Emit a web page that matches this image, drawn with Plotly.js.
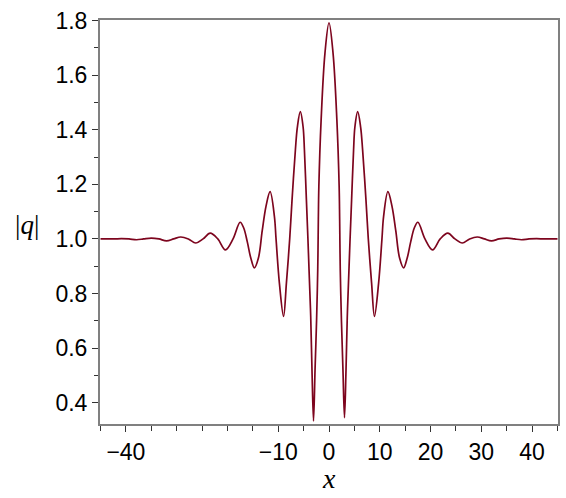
<!DOCTYPE html>
<html>
<head>
<meta charset="utf-8">
<script src="https://cdn.plot.ly/plotly-3.0.1.min.js"></script>
<style>
  html, body { margin: 0; padding: 0; background: #fff; }
  #plot { width: 566px; height: 498px; }
</style>
</head>
<body>
<div id="plot"></div>
<script>
// values: extrema of |q| and points on their flanks
var xVals = [-45, -42.4, -40.9, -39.4, -37.9, -36.5, -35.0, -33.5, -32.0, -30.6,
  -29.2, -27.7, -26.25, -24.8, -23.4, -21.9, -20.4, -18.9, -17.5, -16.8,
  -16.1, -15.4, -14.7, -13.9, -13.15, -12.4, -11.6, -10.75, -10.43, -9.77,
  -8.95, -8.39, -7.74, -7.28, -6.62, -6.23, -5.65, -5.1, -4.84, -4.45,
  -4.15, -3.93, -3.6, -3.35, -3.05, -2.75, -2.45, -2.22, -2.1, -2.0,
  -1.55, -0.8,
  0,
  0.8, 1.55, 2.0, 2.1, 2.22, 2.45, 2.75, 3.05, 3.35, 3.6,
  3.93, 4.15, 4.45, 4.84, 5.1, 5.65, 6.23, 6.62, 7.28, 7.74,
  8.39, 8.95, 9.77, 10.43, 10.75, 11.6, 12.4, 13.15, 13.9, 14.7,
  15.4, 16.1, 16.8, 17.5, 18.9, 20.4, 21.9, 23.4, 24.8, 26.25,
  27.7, 29.2, 30.6, 32.0, 33.5, 35.0, 36.5, 37.9, 39.4, 40.9,
  42.4, 45];

var qVals = [1.0, 1.0, 1.001, 1.0, 0.997, 1.0, 1.003, 1.0, 0.993, 1.0,
  1.007, 1.0, 0.985, 1.0, 1.021, 1.0, 0.96, 1.0, 1.061, 1.04,
  0.99, 0.93, 0.894, 0.93, 1.03, 1.12, 1.173, 1.082, 1.0, 0.838,
  0.716, 0.838, 1.0, 1.143, 1.326, 1.41, 1.466, 1.41, 1.326, 1.143,
  1.0, 0.886, 0.715, 0.52, 0.333, 0.52, 0.70, 0.886, 1.07, 1.19,
  1.436, 1.68,
  1.792,
  1.68, 1.436, 1.19, 1.07, 0.886, 0.70, 0.52, 0.345, 0.52, 0.715,
  0.886, 1.0, 1.143, 1.326, 1.41, 1.466, 1.41, 1.326, 1.143, 1.0,
  0.838, 0.716, 0.838, 1.0, 1.082, 1.173, 1.12, 1.03, 0.93, 0.894,
  0.93, 0.99, 1.04, 1.061, 1.0, 0.96, 1.0, 1.021, 1.0, 0.985,
  1.0, 1.007, 1.0, 0.993, 1.0, 1.003, 1.0, 0.997, 1.0, 1.001,
  1.0, 1.0];

var xTickVals = [-40, -10, 0, 10, 20, 30, 40];
var xTickText = ['\u221240', '\u221210', '0', '10', '20', '30', '40'];

var data = [{
  type: 'scatter',
  mode: 'lines',
  x: xVals,
  y: qVals,
  line: { color: 'rgb(125,5,30)', width: 1.7, shape: 'spline', smoothing: 1 },
  hoverinfo: 'x+y'
}];

var tickFont = { family: 'Liberation Sans, Arial, sans-serif', size: 23, color: '#000' };

var layout = {
  width: 566,
  height: 498,
  margin: { l: 100, r: 8, t: 20, b: 74 },
  paper_bgcolor: '#fff',
  plot_bgcolor: '#fff',
  showlegend: false,
  xaxis: {
    range: [-45.1, 45.1],
    showgrid: false,
    zeroline: false,
    showline: true,
    linecolor: '#808080',
    linewidth: 2,
    mirror: true,
    tickmode: 'array',
    tickvals: xTickVals,
    ticktext: xTickText,
    ticks: 'outside',
    ticklen: 6,
    tickwidth: 1,
    tickcolor: '#333',
    tickfont: tickFont,
    minor: { tickmode: 'linear', tick0: 0, dtick: 5, ticks: 'outside', ticklen: 5, tickcolor: '#333', showgrid: false }
  },
  yaxis: {
    range: [0.322, 1.802],
    showgrid: false,
    zeroline: false,
    showline: true,
    linecolor: '#808080',
    linewidth: 2,
    mirror: true,
    tickmode: 'linear',
    tick0: 0.4,
    dtick: 0.2,
    tickformat: '.1f',
    ticks: 'outside',
    ticklen: 6,
    tickwidth: 1,
    tickcolor: '#333',
    tickfont: tickFont,
    minor: { tickmode: 'linear', tick0: 0.3, dtick: 0.1, ticks: 'outside', ticklen: 4, tickcolor: '#333', showgrid: false }
  },
  annotations: [
    {
      xref: 'paper', yref: 'paper',
      x: -0.159, y: 0.493,
      xanchor: 'center', yanchor: 'middle',
      showarrow: false,
      text: '|<i>q</i>|',
      font: { family: 'Liberation Serif, Times New Roman, serif', size: 27, color: '#000' }
    },
    {
      xref: 'paper', yref: 'paper',
      x: 0.5, y: -0.136,
      xanchor: 'center', yanchor: 'middle',
      showarrow: false,
      text: '<i>x</i>',
      font: { family: 'Liberation Serif, Times New Roman, serif', size: 28, color: '#000' }
    }
  ]
};

Plotly.newPlot('plot', data, layout, { displayModeBar: false, staticPlot: true });
</script>
</body>
</html>
